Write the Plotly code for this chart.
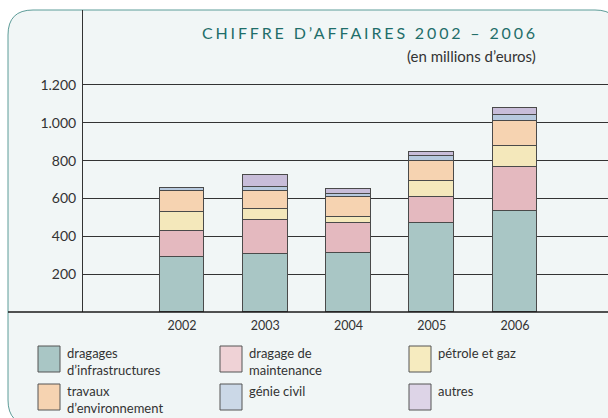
import plotly.graph_objects as go

years = [2002, 2003, 2004, 2005, 2006]
series = ["dragages<br>d’infrastructures", "dragage de<br>maintenance", "pétrole et gaz",
          "travaux<br>d’environnement", "génie civil", "autres"]
infra = [292, 304, 312, 468, 534]
maint = [134, 182, 158, 141, 232]
petrole = [103, 58, 32, 83, 111]
environ = [108, 93, 106, 106, 132]
genie = [18, 24, 15, 24, 32]
autres = [0, 61, 27, 24, 35]
values = [infra, maint, petrole, environ, genie, autres]
y_ticks = [200, 400, 600, 800, 1000, 1200]

bar_colors = ["#a9c6c5", "#e4b9bf", "#f4e8bb", "#f6d3b1", "#b7c9de", "#c8bdd9"]
legend_colors = ["#a9c6c5", "#efd2d6", "#f6ebbf", "#f6d3b1", "#cbd8e7", "#ddd4e7"]

FONT = "Lato, 'Open Sans', sans-serif"
W, H = 608, 418
L, R, T, B = 83, 0, 10, 106
PW, PH = W - L - R, H - T - B


def px(x):
    return (x - L) / PW


def py(y):
    return (H - B - y) / PH


fig = go.Figure()
for name, vals, col in zip(series, values, bar_colors):
    fig.add_trace(go.Bar(x=years, y=vals, name=name, width=0.54,
                         marker=dict(color=col, line=dict(color="#4a4a4a", width=1)),
                         showlegend=False, hoverinfo="skip"))

shapes = []
# panel background with rounded corners
x0, y0, x1, y1, r = 8, 10, 620, 425, 25
path = (f"M {px(x0)},{py(y0 + r)} Q {px(x0)},{py(y0)} {px(x0 + r)},{py(y0)} "
        f"L {px(x1 - r)},{py(y0)} Q {px(x1)},{py(y0)} {px(x1)},{py(y0 + r)} "
        f"L {px(x1)},{py(y1 - r)} Q {px(x1)},{py(y1)} {px(x1 - r)},{py(y1)} "
        f"L {px(x0 + r)},{py(y1)} Q {px(x0)},{py(y1)} {px(x0)},{py(y1 - r)} Z")
shapes.append(dict(type="path", xref="paper", yref="paper", path=path,
                   fillcolor="#f1f6f6", line=dict(color="#5d9c98", width=1), layer="below"))
# baseline
shapes.append(dict(type="line", xref="paper", yref="paper", x0=px(8), x1=px(608), y0=0, y1=0,
                   line=dict(color="#1a1a1a", width=1.5), layer="above"))

annotations = []
annotations.append(dict(xref="paper", yref="paper", x=px(540), y=py(33), xanchor="right", yanchor="middle",
                        text="<span style='letter-spacing:2.85px'>CHIFFRE D’AFFAIRES 2002 – 2006</span>",
                        showarrow=False,
                        font=dict(family=FONT, size=16, color="#1f6e6a")))
annotations.append(dict(xref="paper", yref="paper", x=px(538), y=py(56), xanchor="right", yanchor="middle",
                        text="(en millions d’euros)", showarrow=False,
                        font=dict(family=FONT, size=15, color="#333333")))

# legend
col_sw = [38, 220, 409]
row_sw = [346, 384]
for i, (name, col) in enumerate(zip(series, legend_colors)):
    c, rr = i % 3, i // 3
    sx, sy = col_sw[c], row_sw[rr]
    shapes.append(dict(type="rect", xref="paper", yref="paper", x0=px(sx), x1=px(sx + 22),
                       y0=py(sy), y1=py(sy + 26), fillcolor=col,
                       line=dict(color="#555555", width=1)))
    annotations.append(dict(xref="paper", yref="paper", x=px(sx + 27), y=py(sy - 3),
                            xanchor="left", yanchor="top", align="left", text=name, showarrow=False,
                            font=dict(family=FONT, size=13, color="#333333")))

fig.update_layout(
    width=W, height=H, margin=dict(l=L, r=R, t=T, b=B),
    paper_bgcolor="white", plot_bgcolor="rgba(0,0,0,0)",
    barmode="stack", bargap=0, separators=",.",
    font=dict(family=FONT, size=13, color="#333333"),
    shapes=shapes, annotations=annotations, hovermode=False,
    xaxis=dict(range=[2000.811, 2007.117], tickvals=years, ticktext=[str(y) for y in years],
               showgrid=False, zeroline=False, showline=False, ticks="", ticklabelstandoff=4,
               tickfont=dict(family=FONT, size=12.5, color="#333333")),
    yaxis=dict(range=[0, 1596], tickvals=y_ticks, tickformat=",d",
               showgrid=True, gridcolor="#333333", gridwidth=1, zeroline=False,
               showline=True, linecolor="#333333", linewidth=1,
               ticks="outside", ticklen=3, tickcolor="rgba(0,0,0,0)",
               tickfont=dict(family=FONT, size=14, color="#333333")),
)

fig.write_html("out.html", config={"displayModeBar": False},
               post_script="document.body.style.margin='0';")
